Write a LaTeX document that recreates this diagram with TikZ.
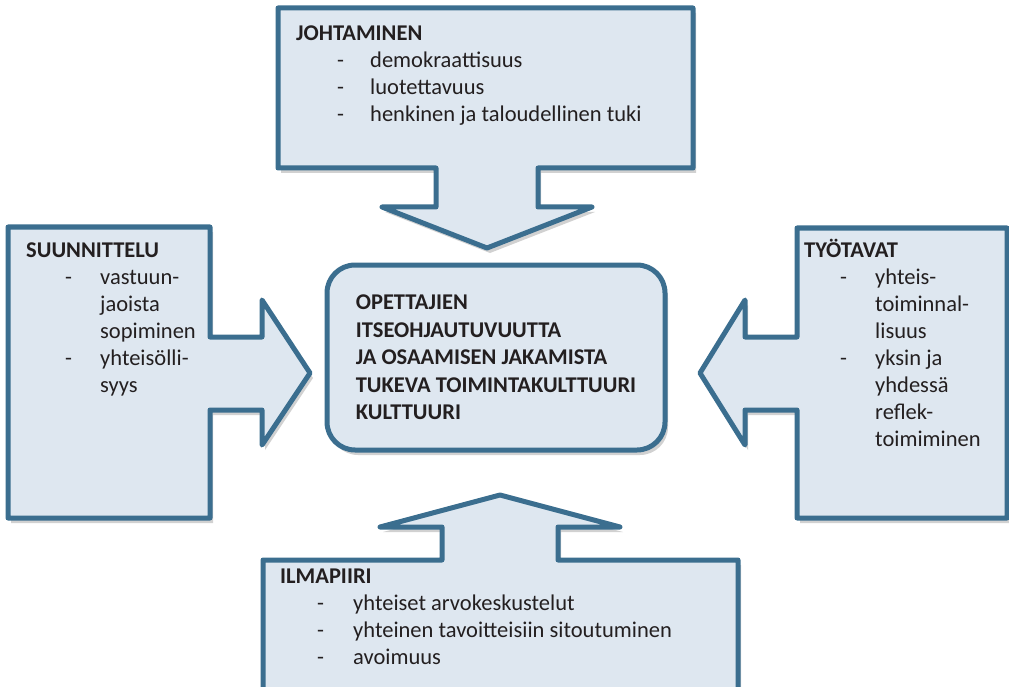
\documentclass[tikz,border=0pt]{standalone}
\usepackage{fontspec}
\setmainfont{Carlito}
\usetikzlibrary{shadows}
\definecolor{kehys}{RGB}{59,110,143}
\definecolor{tausta}{RGB}{222,231,240}
\definecolor{teksti}{RGB}{35,31,32}
\tikzset{
  nuoli/.style={draw=kehys, line width=5pt, fill=tausta, line join=round,
    drop shadow={shadow xshift=3pt, shadow yshift=-5pt, opacity=.3, fill=black!60}},
  keski/.style={nuoli, rounded corners=28pt, minimum width=338pt, minimum height=185pt,
    align=left, text=teksti, font=\fontsize{22.5}{27.5}\selectfont\bfseries},
  otsikko/.style={anchor=base west, inner sep=0pt, text=teksti, font=\fontsize{22.5}{27}\selectfont\bfseries},
  kohta/.style={anchor=base west, inner sep=0pt, text=teksti, font=\fontsize{22.5}{27}\selectfont},
}
\begin{document}
\begin{tikzpicture}[x=1pt,y=-1pt]
  \useasboundingbox (0,0) rectangle (1009,687);
  \clip (0,0) rectangle (1009,687);

  % nuolet
  \draw[nuoli] (278,8) -- (693,8) -- (693,168) -- (538,168) -- (538,207) -- (592,207)
    -- (487,248) -- (382,207) -- (436,207) -- (436,168) -- (278,168) -- cycle;
  \draw[nuoli] (8,227) -- (210,227) -- (210,337) -- (262,337) -- (262,300) -- (310,373)
    -- (262,445) -- (262,410) -- (210,410) -- (210,518) -- (8,518) -- cycle;
  \draw[nuoli] (797,228) -- (1007,228) -- (1007,518) -- (797,518) -- (797,410) -- (745,410)
    -- (745,445) -- (700,373) -- (745,300) -- (745,337) -- (797,337) -- cycle;
  \draw[nuoli] (263,560) -- (442,560) -- (442,527) -- (380,527) -- (500,495) -- (620,527)
    -- (558,527) -- (558,560) -- (738,560) -- (738,710) -- (263,710) -- cycle;

  % keskus
  \node[keski] (keski) at (496,357.5) {OPETTAJIEN\\ITSEOHJAUTUVUUTTA\\JA OSAAMISEN JAKAMISTA\\TUKEVA TOIMINTAKULTTUURI\\KULTTUURI};

  % johtaminen
  \node[otsikko] (johto) at (296,41) {JOHTAMINEN};
  \foreach \t [count=\i] in {demokraattisuus,luotettavuus,henkinen ja taloudellinen tuki} {
    \node[kohta] (johto-v\i) at (337,41+27*\i) {-};
    \node[kohta] (johto-\i) at (370,41+27*\i) {\t};
  }

  % suunnittelu
  \node[otsikko] (suunn) at (26,257) {SUUNNITTELU};
  \foreach \t [count=\i] in {vastuun-,jaoista,sopiminen,yhteisölli-,syys}
    \node[kohta] (suunn-\i) at (100,257+27*\i) {\t};
  \foreach \i in {1,4}
    \node[kohta] (suunn-v\i) at (65,257+27*\i) {-};

  % työtavat
  \node[otsikko] (tyo) at (804,257) {TYÖTAVAT};
  \foreach \t [count=\i] in {yhteis-,toiminnal-,lisuus,yksin ja,yhdessä,reflek-,toimiminen}
    \node[kohta] (tyo-\i) at (875,257+27*\i) {\t};
  \foreach \i in {1,4}
    \node[kohta] (tyo-v\i) at (840,257+27*\i) {-};

  % ilmapiiri
  \node[otsikko] (ilma) at (280,583) {ILMAPIIRI};
  \foreach \t [count=\i] in {yhteiset arvokeskustelut,yhteinen tavoitteisiin sitoutuminen,avoimuus} {
    \node[kohta] (ilma-v\i) at (317,583+27*\i) {-};
    \node[kohta] (ilma-\i) at (353,583+27*\i) {\t};
  }
\end{tikzpicture}
\end{document}
